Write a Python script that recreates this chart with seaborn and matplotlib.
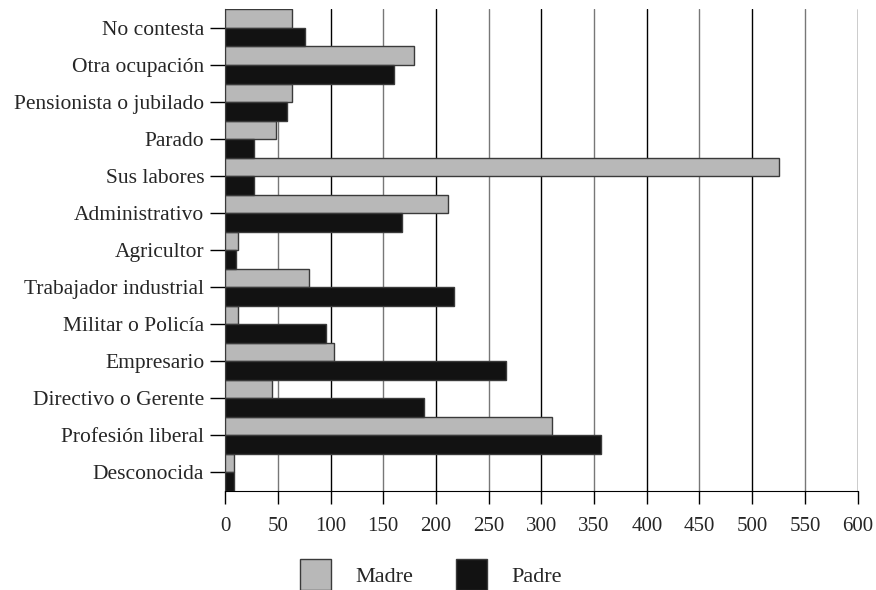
import pandas as pd
import seaborn as sns
import matplotlib.pyplot as plt
from matplotlib.patches import Patch

categories = ["No contesta", "Otra ocupación", "Pensionista o jubilado", "Parado",
              "Sus labores", "Administrativo", "Agricultor", "Trabajador industrial",
              "Militar o Policía", "Empresario", "Directivo o Gerente",
              "Profesión liberal", "Desconocida"]
madre = [63, 179, 63, 48, 525, 211, 12, 80, 12, 103, 44, 310, 8]
padre = [76, 160, 59, 27, 27, 168, 10, 217, 96, 266, 189, 357, 8]

df = pd.DataFrame({
    "ocupacion": categories * 2,
    "valor": madre + padre,
    "progenitor": ["Madre"] * len(categories) + ["Padre"] * len(categories),
})

sns.set_style("white")
plt.rcParams["font.family"] = ["Liberation Serif", "DejaVu Serif"]

fig = plt.figure(figsize=(8.76, 5.90), dpi=100)
ax = fig.add_axes([0.257, 0.168, 0.722, 0.816])

colors = {"Madre": "#b8b8b8", "Padre": "#121212"}
sns.barplot(data=df, y="ocupacion", x="valor", hue="progenitor", order=categories,
            palette=colors, width=1.0, edgecolor="#3a3a3a", linewidth=1.0,
            legend=False, ax=ax, zorder=3)

# vertical grid lines, alternating gray / black like the original
for i, v in enumerate(range(50, 601, 50)):
    ax.axvline(v, color="#777777" if i % 2 == 0 else "black", lw=1.0, zorder=0)

ax.set_xlim(0, 600)
ax.set_ylim(len(categories) - 0.5, -0.5)
ax.set_xticks(range(0, 601, 50))
ax.set_xlabel("")
ax.set_ylabel("")
for s in ["top", "right"]:
    ax.spines[s].set_visible(False)
ax.spines["left"].set_color("black")
ax.spines["bottom"].set_color("black")
ax.tick_params(axis="x", direction="out", length=9, width=1, color="black",
               labelsize=15, pad=10, bottom=True)
ax.tick_params(axis="y", direction="out", length=11, width=1, color="black",
               labelsize=15.5, pad=4, left=True)

handles = [Patch(facecolor=colors[k], edgecolor="#3a3a3a", label=k) for k in ["Madre", "Padre"]]
fig.legend(handles=handles, loc="lower center", bbox_to_anchor=(0.492, 0.0), ncol=2,
           frameon=False, fontsize=16, handlelength=1.4, handleheight=1.75,
           handletextpad=1.1, columnspacing=1.9, borderpad=0.0, borderaxespad=0.0)

fig.savefig("out.png", dpi=100)
